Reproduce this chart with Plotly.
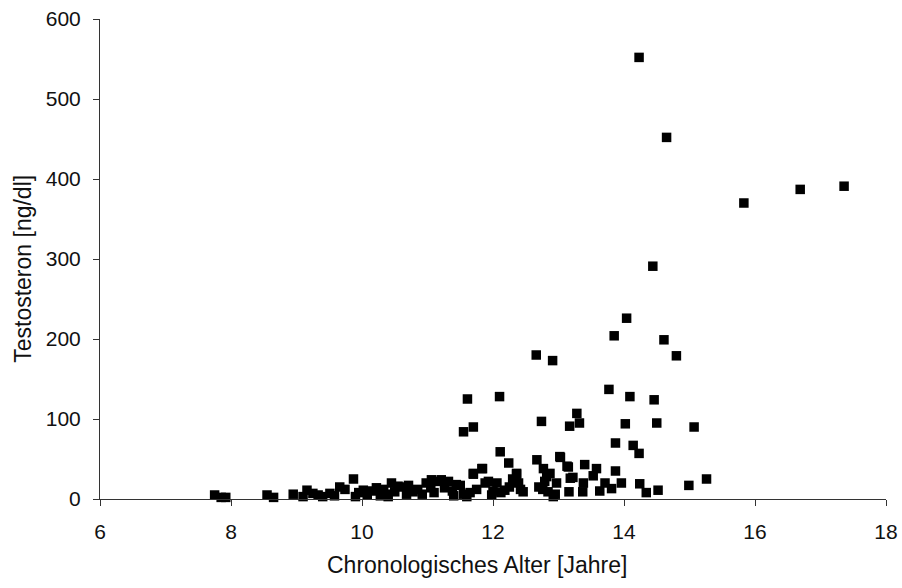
import plotly.graph_objects as go

# Chronologisches Alter [Jahre]
alter = [
    7.75, 7.85, 7.92, 8.55, 8.65, 8.95, 9.10, 9.16, 9.25, 9.33, 9.40, 9.51, 9.58,
    9.66, 9.74, 9.87, 9.90, 9.95, 10.02, 10.08, 10.15, 10.22, 10.28, 10.33, 10.38,
    10.45, 10.50, 10.55, 10.63, 10.68, 10.71, 10.78, 10.85, 10.92, 10.98, 11.06,
    11.10, 11.15, 11.21, 11.26, 11.32, 11.38, 11.44, 11.50, 11.55, 11.60, 11.65,
    11.70, 11.75, 11.83, 11.88, 11.93, 11.98, 12.06, 12.12, 12.18, 12.25, 12.30,
    12.33, 12.36, 12.39, 12.42, 12.46, 11.55, 11.61, 11.70, 12.10, 12.11, 12.24,
    11.84, 11.70, 12.36, 12.66, 12.67, 12.74, 12.77, 12.76, 12.79, 12.84, 12.87,
    12.91, 12.92, 12.97, 13.02, 13.03, 13.13, 13.15, 13.16, 13.17, 13.18, 13.22,
    13.28, 13.32, 13.37, 13.38, 13.40, 13.53, 13.58, 13.63, 13.71, 13.77, 13.81,
    13.85, 13.87, 13.87, 13.96, 14.02, 14.04, 14.09, 14.14, 14.23, 14.23, 14.24,
    14.34, 14.44, 14.46, 14.50, 14.52, 14.61, 14.65, 14.80, 14.99, 15.07, 15.26,
    15.83, 16.69, 17.36, 12.70, 12.82, 12.95, 11.40, 10.40, 11.05, 12.00,
]

# Testosteron [ng/dl]
testosteron = [
    5, 2, 2, 5, 2, 6, 3, 11, 7, 5, 3, 7, 4,
    15, 12, 25, 3, 8, 11, 5, 10, 14, 4, 12, 6,
    20, 9, 16, 15, 6, 17, 9, 12, 6, 20, 24,
    8, 22, 24, 14, 22, 10, 18, 17, 6, 3, 8,
    32, 12, 38, 20, 22, 5, 20, 8, 11, 15, 25,
    22, 32, 20, 12, 9, 84, 125, 90, 128, 59, 45,
    38, 31, 31, 180, 49, 97, 38, 12, 22, 9, 32,
    173, 3, 20, 53, 52, 41, 40, 9, 91, 26, 27,
    107, 95, 9, 20, 43, 29, 38, 10, 20, 137, 13,
    204, 35, 70, 20, 94, 226, 128, 67, 57, 552, 19,
    8, 291, 124, 95, 11, 199, 452, 179, 17, 90, 25,
    370, 387, 391, 15, 28, 6, 4, 3, 14, 10,
]

x_ticks = [6, 8, 10, 12, 14, 16, 18]
y_ticks = [0, 100, 200, 300, 400, 500, 600]

fig = go.Figure(
    go.Scatter(
        x=alter,
        y=testosteron,
        mode="markers",
        marker=dict(symbol="square", size=9.5, color="#000000", line=dict(width=0)),
        cliponaxis=False,
        showlegend=False,
    )
)

family = "Liberation Sans, Arial, Helvetica, sans-serif"
tick_font = dict(family=family, size=21, color="#111111")
title_font = dict(family=family, size=23, color="#111111")

fig.update_layout(
    width=902,
    height=588,
    margin=dict(l=100, r=16, t=19, b=89),
    paper_bgcolor="white",
    plot_bgcolor="white",
    font=tick_font,
    annotations=[
        dict(
            text="Chronologisches Alter [Jahre]",
            xref="paper", yref="paper",
            x=0.48, y=-0.1375,
            xanchor="center", yanchor="middle",
            showarrow=False, font=title_font,
        ),
        dict(
            text="Testosteron [ng/dl]",
            xref="paper", yref="paper",
            x=-0.099, y=0.48,
            xanchor="center", yanchor="middle",
            textangle=-90,
            showarrow=False, font=title_font,
        ),
    ],
)

common = dict(
    ticks="outside",
    ticklen=6,
    tickcolor="#333333",
    showline=True,
    linecolor="#333333",
    linewidth=1,
    showgrid=False,
    zeroline=False,
    tickfont=tick_font,
    automargin=False,
)

fig.update_xaxes(range=[6, 18], tickvals=x_ticks, ticklabelstandoff=8, **common)
fig.update_yaxes(range=[0, 600], tickvals=y_ticks, ticklabelstandoff=8, **common)

fig.write_html("out.html")
